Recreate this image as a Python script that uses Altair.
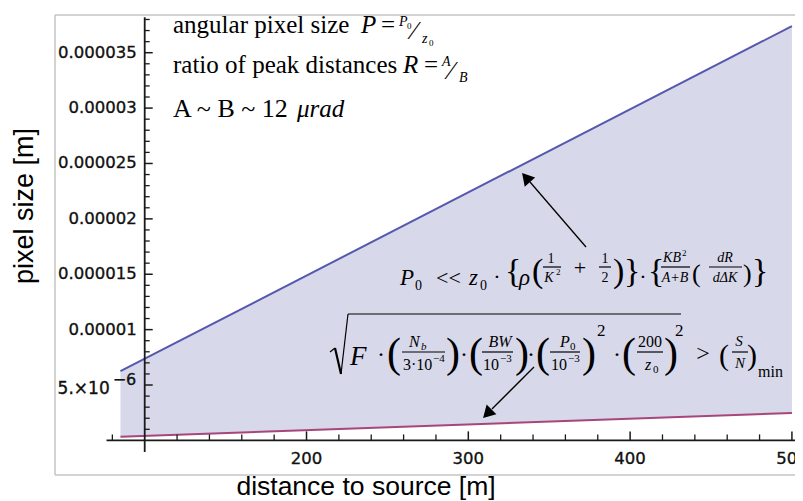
import altair as alt
import pandas as pd

# ---------------- data ----------------
z_vals = [85, 500]                 # distance to source [m]
p_upper = [6.25e-6, 37.4e-6]       # upper bound of pixel size [m]
p_lower = [0.32e-6, 2.48e-6]       # lower bound of pixel size [m]

x_major = [200, 300, 400, 500]
x_major_labels = ["200", "300", "400", "500"]
x_minor = [80, 120, 140, 160, 180, 220, 240, 260, 280, 320, 340, 360, 380,
           420, 440, 460, 480]
y_major = [1e-5, 1.5e-5, 2e-5, 2.5e-5, 3e-5, 3.5e-5]
y_major_labels = ["0.00001", "0.000015", "0.00002", "0.000025", "0.00003", "0.000035"]
y_first = 5e-6
y_first_label = "5.×10"
y_first_exp = "−6"
y_minor = [k * 1e-6 for k in range(1, 39) if k % 5]

# axes cross at (100 m, 0)
x_axis_span = [76.4, 506.5]
y_axis_span = [-1.05e-6, 38.2e-6]
x_cross, y_cross = 100, 0.0

# ---------------- layout ----------------
W, H = 787, 493
xs = alt.Scale(domain=[15.51, 501.9], nice=False, zero=False)
ys = alt.Scale(domain=[-5.471e-6, 39.036e-6], nice=False, zero=False)
AX = "#1a1a1a"
SERIF = "Liberation Serif"
SANS = "Liberation Sans"
TICKF = "DejaVu Sans"


def one():
    return alt.Data(values=[{"k": 0}])


def X(f):
    return alt.X(f, type="quantitative", scale=xs, axis=None)


def Y(f):
    return alt.Y(f, type="quantitative", scale=ys, axis=None)


def txt(x, y, s, size, italic=False, align="left", font=SERIF, angle=0,
        color="black", baseline="alphabetic"):
    kw = dict(font=font, fontSize=size, align=align, baseline=baseline,
              color=color, text=s)
    if italic:
        kw["fontStyle"] = "italic"
    if angle:
        kw["angle"] = angle
    return alt.Chart(one()).mark_text(**kw).encode(
        x=alt.value(x - 8), y=alt.value(y - 8))


def seg(x1, y1, x2, y2, w=1.2, color="black"):
    return alt.Chart(one()).mark_rule(strokeWidth=w, color=color).encode(
        x=alt.value(x1 - 8), y=alt.value(y1 - 8),
        x2=alt.value(x2 - 8), y2=alt.value(y2 - 8))


def head(x, y, ang):
    return alt.Chart(one()).mark_point(shape="triangle-up", filled=True, size=190,
                                       angle=ang, color="black", opacity=1).encode(
        x=alt.value(x - 8), y=alt.value(y - 8))


layers = []

# frame
layers += [seg(55, 15, 803, 15, 1.5, "#c4c4c4"),
           seg(55, 15, 55, 475, 1.5, "#c4c4c4"),
           seg(55, 475, 803, 475, 1.5, "#c4c4c4")]

# filled region and bounds
df = pd.DataFrame({"z": z_vals, "upper": p_upper, "lower": p_lower})
base = alt.Chart(df)
layers.append(base.mark_area(color="#d8d8eb", opacity=1).encode(
    x=X("z"), y=Y("upper"), y2=alt.Y2("lower")))
layers.append(base.mark_line(color="#5558ad", strokeWidth=2).encode(
    x=X("z"), y=Y("upper")))
layers.append(base.mark_line(color="#a8457a", strokeWidth=2).encode(
    x=X("z"), y=Y("lower")))

# axis lines
xa = pd.DataFrame({"a": [x_axis_span[0]], "b": [x_axis_span[1]], "c": [y_cross]})
layers.append(alt.Chart(xa).mark_rule(color=AX, strokeWidth=1.8).encode(
    x=X("a"), x2=alt.X2("b"), y=Y("c")))
ya = pd.DataFrame({"a": [y_axis_span[0]], "b": [y_axis_span[1]], "c": [x_cross]})
layers.append(alt.Chart(ya).mark_rule(color=AX, strokeWidth=1.8).encode(
    y=Y("a"), y2=alt.Y2("b"), x=X("c")))

TL = dict(font=TICKF, color="#111", stroke="#111", strokeWidth=0.35, baseline="middle")

# x ticks (pointing up)
xt = pd.DataFrame({"t": x_major, "c": [y_cross] * len(x_major), "lab": x_major_labels})
xm = pd.DataFrame({"t": x_minor, "c": [y_cross] * len(x_minor)})
layers.append(alt.Chart(xt).mark_rule(color=AX, strokeWidth=1.5, y2Offset=-9).encode(
    x=X("t"), y=Y("c"), y2=alt.Y2("c")))
layers.append(alt.Chart(xm).mark_rule(color=AX, strokeWidth=1.3, y2Offset=-6).encode(
    x=X("t"), y=Y("c"), y2=alt.Y2("c")))
layers.append(alt.Chart(xt).mark_text(fontSize=16.5, dy=19, **TL).encode(
    x=X("t"), y=Y("c"), text="lab:N"))

# y ticks (pointing right)
yt = pd.DataFrame({"t": [y_first] + y_major, "c": [x_cross] * (len(y_major) + 1)})
ym = pd.DataFrame({"t": y_minor, "c": [x_cross] * len(y_minor)})
layers.append(alt.Chart(yt).mark_rule(color=AX, strokeWidth=1.5, x2Offset=8).encode(
    y=Y("t"), x=X("c"), x2=alt.X2("c")))
layers.append(alt.Chart(ym).mark_rule(color=AX, strokeWidth=1.3, x2Offset=5).encode(
    y=Y("t"), x=X("c"), x2=alt.X2("c")))
yl = pd.DataFrame({"t": y_major, "c": [x_cross] * len(y_major), "lab": y_major_labels})
layers.append(alt.Chart(yl).mark_text(fontSize=16.5, align="right", dx=-8, **TL).encode(
    y=Y("t"), x=X("c"), text="lab:N"))
y1 = pd.DataFrame({"t": [y_first], "c": [x_cross], "lab": [y_first_label], "e": [y_first_exp]})
layers.append(alt.Chart(y1).mark_text(fontSize=17, align="right", dx=-35, dy=4, **TL).encode(
    y=Y("t"), x=X("c"), text="lab:N"))
layers.append(alt.Chart(y1).mark_text(fontSize=16, align="left", dx=-32, dy=-5, **TL).encode(
    y=Y("t"), x=X("c"), text="e:N"))

# axis titles
layers.append(txt(33, 206, "pixel size [m]", 27, font=SANS, angle=270, align="center"))
layers.append(txt(366, 495, "distance to source [m]", 26.5, font=SANS, align="center"))

# top-left notes
layers += [
    txt(173, 33, "angular pixel size", 25),
    txt(361, 33, "P", 25, italic=True),
    txt(381, 33, "=", 25),
    txt(399, 26, "P", 14, italic=True), txt(407, 29, "0", 9),
    txt(412, 39, "⁄", 26),
    txt(422, 43, "z", 14, italic=True), txt(429, 46, "0", 9),

    txt(173, 73, "ratio of peak distances", 25),
    txt(403, 73, "R", 25, italic=True),
    txt(424, 73, "=", 25),
    txt(442, 66, "A", 14, italic=True),
    txt(449, 79, "⁄", 26),
    txt(459, 82, "B", 14, italic=True),

    txt(173, 117, "A ~ B ~ 12", 26),
    txt(297, 117, "μrad", 25, italic=True),
]

# formula 1
layers += [
    txt(400, 285, "P", 23, italic=True), txt(415, 290, "0", 14),
    txt(436, 285, "<<", 22),
    txt(469, 285, "z", 23, italic=True), txt(480, 290, "0", 14),
    txt(497, 284, "·", 22, align="center"),
    txt(505, 282, "{", 34),
    txt(519, 285, "ρ", 23, italic=True),
    txt(532, 282, "(", 34),
    txt(551, 263, "1", 14, align="center"), seg(543, 267, 561, 267),
    txt(549, 282, "K", 14, italic=True, align="center"), txt(556, 275, "2", 9),
    txt(580, 275, "+", 22, align="center"),
    txt(605, 263, "1", 14, align="center"), seg(599, 267, 611, 267),
    txt(605, 282, "2", 14, align="center"),
    txt(613, 282, ")", 34),
    txt(624, 282, "}", 34),
    txt(643, 284, "·", 22, align="center"),
    txt(648, 282, "{", 34),
    txt(672, 262, "KB", 14, italic=True, align="center"), txt(682, 256, "2", 9),
    seg(661, 267, 690, 267),
    txt(675, 282, "A+B", 14, italic=True, align="center"),
    txt(692, 282, "(", 26),
    txt(725, 262, "dR", 14, italic=True, align="center"), seg(709, 267, 742, 267),
    txt(725, 282, "dΔK", 14, italic=True, align="center"),
    txt(743, 282, ")", 26),
    txt(752, 282, "}", 34),
]

# formula 2
layers += [
    seg(330, 352, 335, 348, 1.2), seg(335, 348, 341, 374, 2.2),
    seg(341, 374, 348, 314, 1.2), seg(348, 314, 681, 314, 1.2),
    txt(350, 365, "F", 27, italic=True),
    txt(381, 362, "·", 24, align="center"),
    txt(387, 367, "(", 42),
    txt(409, 347, "N", 16, italic=True), txt(421, 350, "b", 11, italic=True),
    seg(402, 352, 445, 352),
    txt(403, 370, "3·10", 16), txt(433, 362, "−4", 11),
    txt(446, 367, ")", 42),
    txt(464, 362, "·", 24, align="center"),
    txt(469, 367, "(", 42),
    txt(500, 347, "BW", 16, italic=True, align="center"), seg(482, 352, 513, 352),
    txt(483, 370, "10", 16), txt(500, 362, "−3", 11),
    txt(515, 367, ")", 42),
    txt(531, 362, "·", 24, align="center"),
    txt(536, 367, "(", 42),
    txt(560, 347, "P", 16, italic=True), txt(570, 350, "0", 11),
    seg(550, 352, 580, 352),
    txt(551, 370, "10", 16), txt(568, 362, "−3", 11),
    txt(582, 367, ")", 42), txt(597, 336, "2", 17),
    txt(617, 362, "·", 24, align="center"),
    txt(622, 367, "(", 42),
    txt(650, 347, "200", 16, align="center"), seg(637, 352, 663, 352),
    txt(645, 370, "z", 16, italic=True), txt(653, 373, "0", 11),
    txt(664, 367, ")", 42), txt(675, 336, "2", 17),
    txt(703, 361, ">", 24, align="center"),
    txt(719, 365, "(", 30),
    txt(739, 346, "S", 15, italic=True, align="center"), seg(732, 352, 748, 352),
    txt(740, 368, "N", 15, italic=True, align="center"),
    txt(747, 365, ")", 30),
    txt(758, 377, "min", 16),
]

# arrows
layers += [
    seg(586, 247, 530, 182, 1.3), head(526.0, 177.6, 319),
    seg(534, 367, 492, 409, 1.3), head(487.3, 413.7, 225),
]

chart = alt.layer(*layers).properties(
    width=W, height=H,
    autosize=alt.AutoSizeParams(type="none"),
    padding=0,
    background="white",
).configure_view(stroke=None)

chart.save("out.html", embed_options={"renderer": "svg", "actions": False})
